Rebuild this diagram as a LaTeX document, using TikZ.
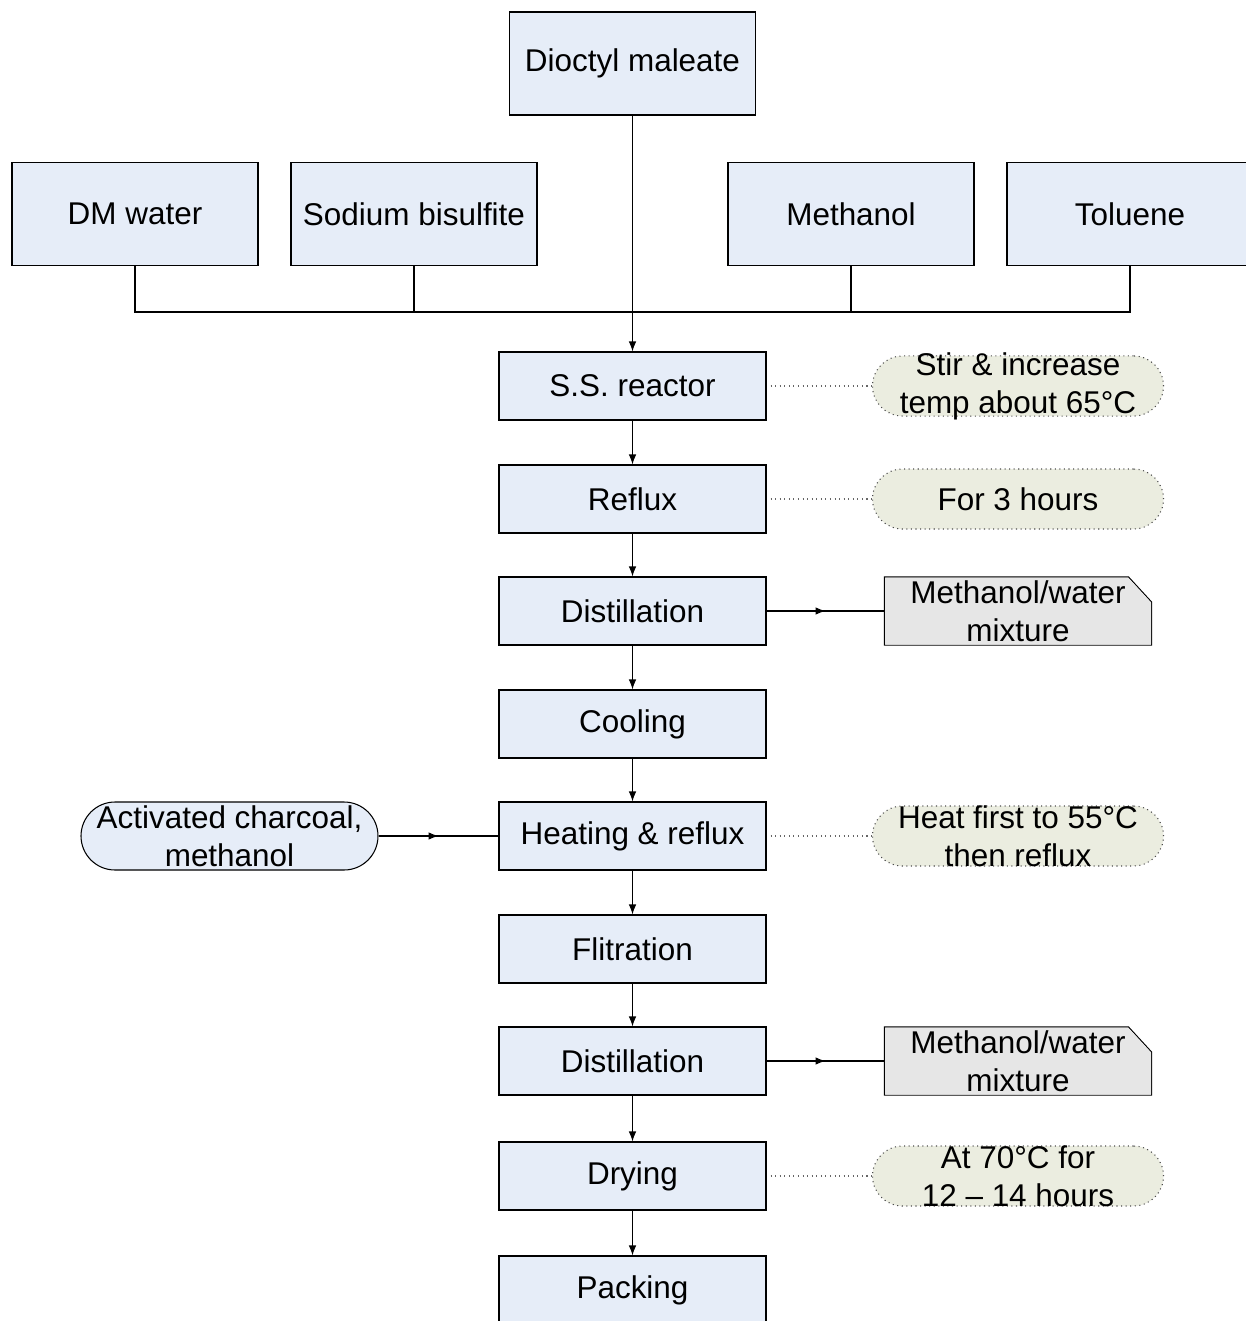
\documentclass[tikz,border=0pt]{standalone}
\usepackage{fontspec}
\setmainfont{Liberation Sans}
\usepackage{tikz}
\usetikzlibrary{arrows,arrows.meta,positioning,decorations.markings,shapes}
\definecolor{boxblue}{RGB}{230,237,248}
\definecolor{noteolive}{RGB}{235,237,224}
\definecolor{wastegray}{RGB}{230,230,230}

\begin{document}
\begin{tikzpicture}[
    font=\fontsize{17.9}{21.5}\selectfont,
    line width=0.6pt,
    >={Latex[length=0.2cm,width=0.15cm]},
    feed/.style={draw,rectangle,fill=boxblue,minimum width=4.92cm,minimum height=2.06cm},
    proc/.style={draw,rectangle,fill=boxblue,minimum width=5.34cm,minimum height=1.36cm},
    note/.style={draw=black!70,dotted,rectangle,rounded corners=0.6cm,fill=noteolive,
                 minimum width=5.82cm,minimum height=1.2cm,inner ysep=-2pt,align=center},
    waste/.style={rectangle,minimum width=5.32cm,minimum height=1.34cm,inner ysep=0pt,align=center,
                  path picture={\fill[wastegray] (path picture bounding box.south west)
                      -- (path picture bounding box.north west)
                      -- ([xshift=-0.46cm]path picture bounding box.north east)
                      -- ([yshift=-0.5cm]path picture bounding box.north east)
                      -- (path picture bounding box.south east) -- cycle;},
                  append after command={\pgfextra{\draw (\tikzlastnode.south west)
                      -- (\tikzlastnode.north west)
                      -- ([xshift=-0.46cm]\tikzlastnode.north east)
                      -- ([yshift=-0.5cm]\tikzlastnode.north east)
                      -- (\tikzlastnode.south east) -- cycle;}}},
    feedin/.style={draw,rectangle,rounded corners=0.68cm,fill=boxblue,
                   minimum width=5.94cm,minimum height=1.36cm,inner ysep=-2pt,align=center},
    midarrow/.style={postaction={decorate},
                     decoration={markings,mark=at position 0.5 with {\arrow{>}}}},
    link/.style={draw=black!60,dotted}
  ]
    \fill[white] (0,0) rectangle (24.92,-26.42);
    \useasboundingbox (0,0) rectangle (24.92,-26.42);

    % raw materials
    \node[feed] (dom)  at (12.65,-1.27) {Dioctyl maleate} ;
    \node[feed] (dmw)  at ( 2.70,-4.28) {DM water} ;
    \node[feed] (sbs)  at ( 8.28,-4.28) {Sodium bisulfite} ;
    \node[feed] (meoh) at (17.02,-4.28) {Methanol} ;
    \node[feed] (tol)  at (22.60,-4.28) {Toluene} ;

    % process steps
    \node[proc] (ssr)   at (12.65, -7.72) {S.S. reactor} ;
    \node[proc] (refl)  at (12.65, -9.98) {Reflux} ;
    \node[proc] (dist1) at (12.65,-12.22) {Distillation} ;
    \node[proc] (cool)  at (12.65,-14.48) {Cooling} ;
    \node[proc] (heat)  at (12.65,-16.72) {Heating \& reflux} ;
    \node[proc] (filt)  at (12.65,-18.98) {Flitration} ;
    \node[proc] (dist2) at (12.65,-21.22) {Distillation} ;
    \node[proc] (dry)   at (12.65,-23.52) {Drying} ;
    \node[proc] (pack)  at (12.65,-25.80) {Packing} ;

    % conditions
    \node[note] (n1) at (20.36, -7.72) {Stir \& increase\\temp about 65°C} ;
    \node[note] (n2) at (20.36, -9.98) {For 3 hours} ;
    \node[note] (n3) at (20.36,-16.72) {Heat first to 55°C\\then reflux} ;
    \node[note] (n4) at (20.36,-23.52) {At 70°C for\\12 – 14 hours} ;

    % side streams
    \node[waste]  (w1) at (20.36,-12.22) {Methanol/water\\mixture} ;
    \node[waste]  (w2) at (20.36,-21.22) {Methanol/water\\mixture} ;
    \node[feedin] (ac) at ( 4.59,-16.72) {Activated charcoal,\\methanol} ;

    \coordinate (bus) at (0,-6.24) ;
    \draw (dmw.south) |- (bus -| tol.south) -- (tol.south) ;
    \draw (sbs.south) -- (sbs.south |- bus) ;
    \draw (meoh.south) -- (meoh.south |- bus) ;
    \draw[->] (dom) -- (ssr) ;

    \foreach \a/\b in {ssr/refl,refl/dist1,dist1/cool,cool/heat,heat/filt,filt/dist2,dist2/dry,dry/pack}
        \draw[->] (\a) -- (\b) ;

    \draw[midarrow] (dist1) -- (w1) ;
    \draw[midarrow] (dist2) -- (w2) ;
    \draw[midarrow] (ac) -- (heat) ;

    \draw[link] ([xshift=0.08cm]ssr.east) -- (n1) ;
    \draw[link] ([xshift=0.08cm]refl.east) -- (n2) ;
    \draw[link] ([xshift=0.08cm]heat.east) -- (n3) ;
    \draw[link] ([xshift=0.08cm]dry.east) -- (n4) ;
\end{tikzpicture}
\end{document}
